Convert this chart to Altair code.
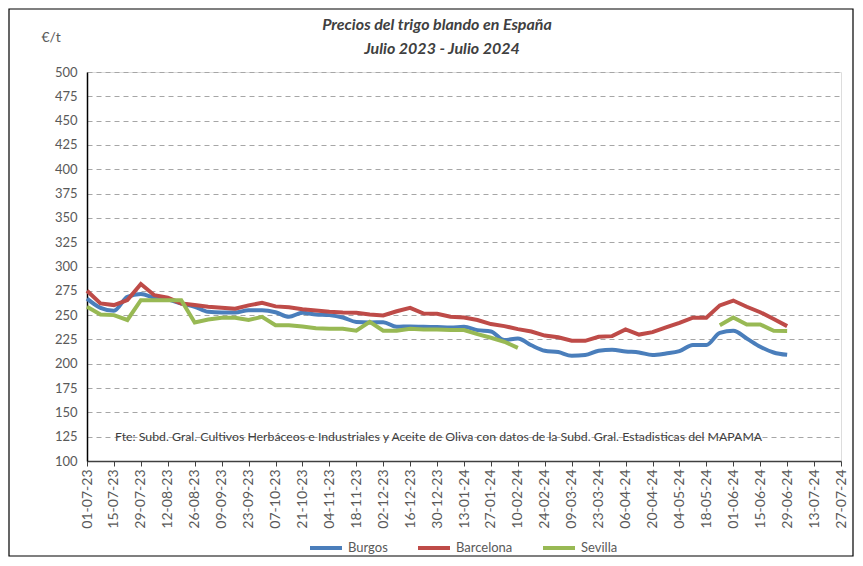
import altair as alt
import pandas as pd

tick_labels = ["01-07-23", "15-07-23", "29-07-23", "12-08-23", "26-08-23", "09-09-23",
               "23-09-23", "07-10-23", "21-10-23", "04-11-23", "18-11-23", "02-12-23",
               "16-12-23", "30-12-23", "13-01-24", "27-01-24", "10-02-24", "24-02-24",
               "09-03-24", "23-03-24", "06-04-24", "20-04-24", "04-05-24", "18-05-24",
               "01-06-24", "15-06-24", "29-06-24", "13-07-24", "27-07-24"]

series = ["Burgos", "Barcelona", "Sevilla"]
colors = ["#4a7ebb", "#be4b48", "#98b954"]

# weekly prices (€/t), one value per week starting 01-07-23
burgos = [267, 257.5, 254.5, 268.8, 271.6, 268, 266, 262, 258.6, 253.4,
          252.7, 252.7, 255, 255, 253, 248.3, 252.4, 250.7, 250, 247.6,
          243, 242.5, 242.8, 238, 238.4, 238, 237.7, 237.3, 238, 234.6,
          233.2, 224.3, 226, 219, 213.4, 212, 208.2, 209, 213.4, 214.4,
          212.7, 211.6, 209, 210.6, 213, 219.2, 219.2, 231.8, 233.9, 226,
          217.5, 211.6, 209.2]
barcelona = [275, 262, 260.3, 265.4, 282, 270.5, 268, 262, 260.3, 258.6,
             257.5, 256.5, 260, 262.7, 259, 258, 256, 254.7, 253.4, 252.7,
             252.4, 250.7, 249.7, 254, 257.5, 251.7, 251.4, 248.3, 247.6, 245,
             240.8, 238.7, 235.6, 233.2, 229, 227.2, 223.6, 223.6, 227.7, 228.4,
             235.3, 230, 232.5, 237.3, 242, 247.3, 247.3, 260, 265, 258.6,
             253, 246, 238.7]
sevilla = [258.6, 250.7, 250, 245, 265.4, 265.4, 265.4, 265.4, 242.5, 245.5,
           247.3, 247.3, 245, 248.3, 239.7, 239.7, 238.4, 236.5, 236, 236,
           234, 243, 234, 234, 236, 235.3, 235.3, 234.6, 234.6, 230.5,
           226.7, 222.6, 216.4, None, None, None, None, None, None, None,
           None, None, None, None, None, None, None, 239.7, 247.6, 240.4,
           240.4, 233.9, 233.6]

title_lines = ["Precios del trigo blando en España", "Julio 2023 - Julio 2024"]
note = ("Fte: Subd. Gral. Cultivos Herbáceos e Industriales y Aceite de Oliva  "
        "con datos de la Subd. Gral. Estadisticas del MAPAMA")

rows = []
for name, vals in zip(series, [burgos, barcelona, sevilla]):
    seg = 0
    for i, v in enumerate(vals):
        if v is None:
            seg += 1
            continue
        rows.append({"week": i, "serie": name, "precio": v, "tramo": f"{name}{seg}"})
df = pd.DataFrame(rows)

FONT = "Lato"
label_expr = "[" + ",".join(f"'{t}'" for t in tick_labels) + "][round(datum.value/2)]"

x_enc = alt.X("week:Q",
              scale=alt.Scale(domain=[0, 56], nice=False, zero=False),
              axis=alt.Axis(values=list(range(0, 57, 2)), labelExpr=label_expr,
                            labelAngle=270, tickSize=5, grid=False, title=None,
                            domainColor="#404040", domainWidth=1.5, tickColor="#404040",
                            labelFontSize=14, labelColor="#595959", labelPadding=3,
                            labelFont=FONT))
y_enc = alt.Y("precio:Q",
              scale=alt.Scale(domain=[100, 500], nice=False, zero=False),
              axis=alt.Axis(values=list(range(100, 501, 25)), grid=True,
                            gridDash=[5, 4], gridColor="#a6a6a6", gridWidth=1,
                            ticks=False, domainColor="#000000", domainWidth=1.5,
                            labelPadding=10, labelFontSize=13, labelColor="#595959",
                            labelFont=FONT,
                            title="€/t", titleAngle=0, titleX=-46, titleY=-35,
                            titleAlign="left", titleBaseline="middle",
                            titleFontWeight="normal", titleFontSize=14,
                            titleColor="#595959", titleFont=FONT))
color_enc = alt.Color("serie:N",
                      scale=alt.Scale(domain=series, range=colors),
                      legend=alt.Legend(orient="none", legendX=221, legendY=458,
                                        direction="horizontal", title=None,
                                        symbolType="stroke", symbolSize=1024,
                                        symbolStrokeWidth=4, labelFontSize=13,
                                        labelColor="#595959", labelFont=FONT,
                                        columnPadding=22, labelOffset=4))

base = alt.Chart(df)
burgos_line = base.transform_filter(alt.datum.serie == "Burgos").mark_line(
    strokeWidth=4, interpolate="monotone").encode(
    x=x_enc, y=y_enc, color=color_enc, detail="tramo:N")
other_lines = base.transform_filter(alt.datum.serie != "Burgos").mark_line(
    strokeWidth=4).encode(
    x=x_enc, y=y_enc, color=color_enc, detail="tramo:N")

note_layer = alt.Chart(pd.DataFrame({"t": [note]})).mark_text(
    align="left", baseline="middle", fontSize=12.3, font=FONT, color="#404040"
).encode(x=alt.value(28), y=alt.value(365), text="t:N")

title1 = alt.Chart(pd.DataFrame({"t": [title_lines[0]]})).mark_text(
    align="center", baseline="middle", fontSize=16, font=FONT, fontStyle="italic",
    fontWeight="bold", color="#404040"
).encode(x=alt.value(350), y=alt.value(-47), text="t:N")
title2 = alt.Chart(pd.DataFrame({"t": [title_lines[1]]})).mark_text(
    align="center", baseline="middle", fontSize=16, font=FONT, fontStyle="italic",
    fontWeight="bold", color="#404040"
).encode(x=alt.value(355), y=alt.value(-23), text="t:N")

frame = alt.Chart(pd.DataFrame({"a": [0]})).mark_rect(
    fillOpacity=0, stroke="#000000", strokeWidth=1.2, clip=False
).encode(x=alt.value(-78), x2=alt.value(766), y=alt.value(-63), y2=alt.value(484))

chart = alt.layer(burgos_line, other_lines, note_layer, title1, title2, frame).properties(
    width=754, height=389, autosize="none",
    padding={"left": 79, "top": 64, "right": 14, "bottom": 97},
).configure_view(fill="#f2f2f2", stroke="#8c8c8c", strokeWidth=1).configure(
    background="white")

chart.save("out.html", embed_options={"renderer": "svg", "actions": False})
